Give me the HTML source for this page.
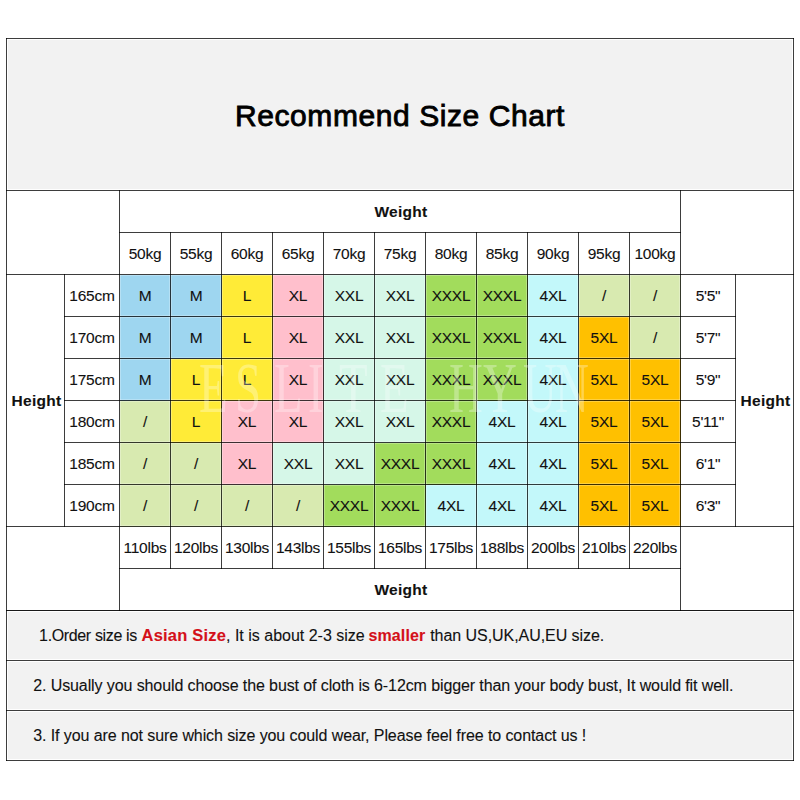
<!DOCTYPE html>
<html><head><meta charset="utf-8"><style>
html,body{margin:0;padding:0;background:#fff;}
body{width:800px;height:800px;position:relative;overflow:hidden;font-family:"Liberation Sans",Arial,sans-serif;color:#111;isolation:isolate;}
.a{position:absolute;}
.h{background:rgba(255,255,255,0.25);}
.c{position:absolute;display:flex;align-items:center;justify-content:center;white-space:nowrap;font-size:15.5px;letter-spacing:-0.25px;-webkit-text-stroke:0.1px #111;}
.title{font-size:30px;font-weight:400;letter-spacing:0.58px;-webkit-text-stroke:0.85px #000;color:#000;padding-top:3px;box-sizing:border-box;}
.b{font-weight:700;letter-spacing:0.3px;}
.note{position:absolute;white-space:nowrap;font-size:16px;color:#111;-webkit-text-stroke:0.1px currentColor;}
.r{color:#D41019;font-weight:700;}
.wm{position:absolute;font-family:"Liberation Serif",serif;color:rgba(255,255,255,0.3);font-size:71px;line-height:71px;transform:scaleX(0.66);transform-origin:0 0;white-space:nowrap;}
</style></head><body>
<div class="a " style="left:8px;top:40px;width:784px;height:149px;background:#F2F2F2"></div><div class="a " style="left:120px;top:275px;width:51px;height:42px;background:#9ED6F0"></div><div class="a " style="left:171px;top:275px;width:51px;height:42px;background:#9ED6F0"></div><div class="a " style="left:222px;top:275px;width:51px;height:42px;background:#FFEB37"></div><div class="a " style="left:273px;top:275px;width:51px;height:42px;background:#FFBFCC"></div><div class="a " style="left:324px;top:275px;width:51px;height:42px;background:#D6F7E8"></div><div class="a " style="left:375px;top:275px;width:51px;height:42px;background:#D6F7E8"></div><div class="a " style="left:426px;top:275px;width:51px;height:42px;background:#A2DC5C"></div><div class="a " style="left:477px;top:275px;width:51px;height:42px;background:#A2DC5C"></div><div class="a " style="left:528px;top:275px;width:51px;height:42px;background:#C3F8FA"></div><div class="a " style="left:579px;top:275px;width:51px;height:42px;background:#D8EAB0"></div><div class="a " style="left:630px;top:275px;width:51px;height:42px;background:#D8EAB0"></div><div class="a " style="left:120px;top:317px;width:51px;height:42px;background:#9ED6F0"></div><div class="a " style="left:171px;top:317px;width:51px;height:42px;background:#9ED6F0"></div><div class="a " style="left:222px;top:317px;width:51px;height:42px;background:#FFEB37"></div><div class="a " style="left:273px;top:317px;width:51px;height:42px;background:#FFBFCC"></div><div class="a " style="left:324px;top:317px;width:51px;height:42px;background:#D6F7E8"></div><div class="a " style="left:375px;top:317px;width:51px;height:42px;background:#D6F7E8"></div><div class="a " style="left:426px;top:317px;width:51px;height:42px;background:#A2DC5C"></div><div class="a " style="left:477px;top:317px;width:51px;height:42px;background:#A2DC5C"></div><div class="a " style="left:528px;top:317px;width:51px;height:42px;background:#C3F8FA"></div><div class="a " style="left:579px;top:317px;width:51px;height:42px;background:#FFC000"></div><div class="a " style="left:630px;top:317px;width:51px;height:42px;background:#D8EAB0"></div><div class="a " style="left:120px;top:359px;width:51px;height:42px;background:#9ED6F0"></div><div class="a " style="left:171px;top:359px;width:51px;height:42px;background:#FFEB37"></div><div class="a " style="left:222px;top:359px;width:51px;height:42px;background:#FFEB37"></div><div class="a " style="left:273px;top:359px;width:51px;height:42px;background:#FFBFCC"></div><div class="a " style="left:324px;top:359px;width:51px;height:42px;background:#D6F7E8"></div><div class="a " style="left:375px;top:359px;width:51px;height:42px;background:#D6F7E8"></div><div class="a " style="left:426px;top:359px;width:51px;height:42px;background:#A2DC5C"></div><div class="a " style="left:477px;top:359px;width:51px;height:42px;background:#A2DC5C"></div><div class="a " style="left:528px;top:359px;width:51px;height:42px;background:#C3F8FA"></div><div class="a " style="left:579px;top:359px;width:51px;height:42px;background:#FFC000"></div><div class="a " style="left:630px;top:359px;width:51px;height:42px;background:#FFC000"></div><div class="a " style="left:120px;top:401px;width:51px;height:42px;background:#D8EAB0"></div><div class="a " style="left:171px;top:401px;width:51px;height:42px;background:#FFEB37"></div><div class="a " style="left:222px;top:401px;width:51px;height:42px;background:#FFBFCC"></div><div class="a " style="left:273px;top:401px;width:51px;height:42px;background:#FFBFCC"></div><div class="a " style="left:324px;top:401px;width:51px;height:42px;background:#D6F7E8"></div><div class="a " style="left:375px;top:401px;width:51px;height:42px;background:#D6F7E8"></div><div class="a " style="left:426px;top:401px;width:51px;height:42px;background:#A2DC5C"></div><div class="a " style="left:477px;top:401px;width:51px;height:42px;background:#C3F8FA"></div><div class="a " style="left:528px;top:401px;width:51px;height:42px;background:#C3F8FA"></div><div class="a " style="left:579px;top:401px;width:51px;height:42px;background:#FFC000"></div><div class="a " style="left:630px;top:401px;width:51px;height:42px;background:#FFC000"></div><div class="a " style="left:120px;top:443px;width:51px;height:42px;background:#D8EAB0"></div><div class="a " style="left:171px;top:443px;width:51px;height:42px;background:#D8EAB0"></div><div class="a " style="left:222px;top:443px;width:51px;height:42px;background:#FFBFCC"></div><div class="a " style="left:273px;top:443px;width:51px;height:42px;background:#D6F7E8"></div><div class="a " style="left:324px;top:443px;width:51px;height:42px;background:#D6F7E8"></div><div class="a " style="left:375px;top:443px;width:51px;height:42px;background:#A2DC5C"></div><div class="a " style="left:426px;top:443px;width:51px;height:42px;background:#A2DC5C"></div><div class="a " style="left:477px;top:443px;width:51px;height:42px;background:#C3F8FA"></div><div class="a " style="left:528px;top:443px;width:51px;height:42px;background:#C3F8FA"></div><div class="a " style="left:579px;top:443px;width:51px;height:42px;background:#FFC000"></div><div class="a " style="left:630px;top:443px;width:51px;height:42px;background:#FFC000"></div><div class="a " style="left:120px;top:485px;width:51px;height:42px;background:#D8EAB0"></div><div class="a " style="left:171px;top:485px;width:51px;height:42px;background:#D8EAB0"></div><div class="a " style="left:222px;top:485px;width:51px;height:42px;background:#D8EAB0"></div><div class="a " style="left:273px;top:485px;width:51px;height:42px;background:#D8EAB0"></div><div class="a " style="left:324px;top:485px;width:51px;height:42px;background:#A2DC5C"></div><div class="a " style="left:375px;top:485px;width:51px;height:42px;background:#A2DC5C"></div><div class="a " style="left:426px;top:485px;width:51px;height:42px;background:#C3F8FA"></div><div class="a " style="left:477px;top:485px;width:51px;height:42px;background:#C3F8FA"></div><div class="a " style="left:528px;top:485px;width:51px;height:42px;background:#C3F8FA"></div><div class="a " style="left:579px;top:485px;width:51px;height:42px;background:#FFC000"></div><div class="a " style="left:630px;top:485px;width:51px;height:42px;background:#FFC000"></div><div class="a " style="left:8px;top:612px;width:784px;height:47px;background:#F2F2F2"></div><div class="a " style="left:8px;top:662px;width:784px;height:47px;background:#F2F2F2"></div><div class="a " style="left:8px;top:712px;width:784px;height:47px;background:#F2F2F2"></div>
<div class="a h" style="left:6px;top:37px;width:788px;height:1px;"></div><div class="a h" style="left:6px;top:39px;width:788px;height:1px;"></div><div class="a h" style="left:6px;top:759px;width:788px;height:1px;"></div><div class="a h" style="left:6px;top:761px;width:788px;height:1px;"></div><div class="a h" style="left:5px;top:38px;width:1px;height:723px;"></div><div class="a h" style="left:7px;top:38px;width:1px;height:723px;"></div><div class="a h" style="left:792px;top:38px;width:1px;height:723px;"></div><div class="a h" style="left:794px;top:38px;width:1px;height:723px;"></div><div class="a h" style="left:6px;top:189px;width:788px;height:1px;"></div><div class="a h" style="left:6px;top:191px;width:788px;height:1px;"></div><div class="a h" style="left:119px;top:231px;width:562px;height:1px;"></div><div class="a h" style="left:119px;top:233px;width:562px;height:1px;"></div><div class="a h" style="left:6px;top:273px;width:788px;height:1px;"></div><div class="a h" style="left:6px;top:275px;width:788px;height:1px;"></div><div class="a h" style="left:64px;top:315px;width:672px;height:1px;"></div><div class="a h" style="left:64px;top:317px;width:672px;height:1px;"></div><div class="a h" style="left:64px;top:357px;width:672px;height:1px;"></div><div class="a h" style="left:64px;top:359px;width:672px;height:1px;"></div><div class="a h" style="left:64px;top:399px;width:672px;height:1px;"></div><div class="a h" style="left:64px;top:401px;width:672px;height:1px;"></div><div class="a h" style="left:64px;top:441px;width:672px;height:1px;"></div><div class="a h" style="left:64px;top:443px;width:672px;height:1px;"></div><div class="a h" style="left:64px;top:483px;width:672px;height:1px;"></div><div class="a h" style="left:64px;top:485px;width:672px;height:1px;"></div><div class="a h" style="left:6px;top:525px;width:788px;height:1px;"></div><div class="a h" style="left:6px;top:527px;width:788px;height:1px;"></div><div class="a h" style="left:119px;top:567px;width:562px;height:1px;"></div><div class="a h" style="left:119px;top:569px;width:562px;height:1px;"></div><div class="a h" style="left:6px;top:609px;width:788px;height:1px;"></div><div class="a h" style="left:6px;top:611px;width:788px;height:1px;"></div><div class="a h" style="left:6px;top:659px;width:788px;height:1px;"></div><div class="a h" style="left:6px;top:661px;width:788px;height:1px;"></div><div class="a h" style="left:6px;top:709px;width:788px;height:1px;"></div><div class="a h" style="left:6px;top:711px;width:788px;height:1px;"></div><div class="a h" style="left:118px;top:190px;width:1px;height:421px;"></div><div class="a h" style="left:120px;top:190px;width:1px;height:421px;"></div><div class="a h" style="left:679px;top:190px;width:1px;height:421px;"></div><div class="a h" style="left:681px;top:190px;width:1px;height:421px;"></div><div class="a h" style="left:63px;top:274px;width:1px;height:253px;"></div><div class="a h" style="left:65px;top:274px;width:1px;height:253px;"></div><div class="a h" style="left:734px;top:274px;width:1px;height:253px;"></div><div class="a h" style="left:736px;top:274px;width:1px;height:253px;"></div><div class="a h" style="left:169px;top:232px;width:1px;height:337px;"></div><div class="a h" style="left:171px;top:232px;width:1px;height:337px;"></div><div class="a h" style="left:220px;top:232px;width:1px;height:337px;"></div><div class="a h" style="left:222px;top:232px;width:1px;height:337px;"></div><div class="a h" style="left:271px;top:232px;width:1px;height:337px;"></div><div class="a h" style="left:273px;top:232px;width:1px;height:337px;"></div><div class="a h" style="left:322px;top:232px;width:1px;height:337px;"></div><div class="a h" style="left:324px;top:232px;width:1px;height:337px;"></div><div class="a h" style="left:373px;top:232px;width:1px;height:337px;"></div><div class="a h" style="left:375px;top:232px;width:1px;height:337px;"></div><div class="a h" style="left:424px;top:232px;width:1px;height:337px;"></div><div class="a h" style="left:426px;top:232px;width:1px;height:337px;"></div><div class="a h" style="left:475px;top:232px;width:1px;height:337px;"></div><div class="a h" style="left:477px;top:232px;width:1px;height:337px;"></div><div class="a h" style="left:526px;top:232px;width:1px;height:337px;"></div><div class="a h" style="left:528px;top:232px;width:1px;height:337px;"></div><div class="a h" style="left:577px;top:232px;width:1px;height:337px;"></div><div class="a h" style="left:579px;top:232px;width:1px;height:337px;"></div><div class="a h" style="left:628px;top:232px;width:1px;height:337px;"></div><div class="a h" style="left:630px;top:232px;width:1px;height:337px;"></div>
<div class="a " style="left:6px;top:38px;width:788px;height:1px;background:rgba(0,0,0,0.76)"></div><div class="a " style="left:6px;top:760px;width:788px;height:1px;background:rgba(0,0,0,0.76)"></div><div class="a " style="left:6px;top:38px;width:1px;height:723px;background:rgba(0,0,0,0.76)"></div><div class="a " style="left:793px;top:38px;width:1px;height:723px;background:rgba(0,0,0,0.76)"></div><div class="a " style="left:6px;top:190px;width:788px;height:1px;background:rgba(0,0,0,0.76)"></div><div class="a " style="left:119px;top:232px;width:562px;height:1px;background:rgba(0,0,0,0.76)"></div><div class="a " style="left:6px;top:274px;width:788px;height:1px;background:rgba(0,0,0,0.76)"></div><div class="a " style="left:64px;top:316px;width:672px;height:1px;background:rgba(0,0,0,0.76)"></div><div class="a " style="left:64px;top:358px;width:672px;height:1px;background:rgba(0,0,0,0.76)"></div><div class="a " style="left:64px;top:400px;width:672px;height:1px;background:rgba(0,0,0,0.76)"></div><div class="a " style="left:64px;top:442px;width:672px;height:1px;background:rgba(0,0,0,0.76)"></div><div class="a " style="left:64px;top:484px;width:672px;height:1px;background:rgba(0,0,0,0.76)"></div><div class="a " style="left:6px;top:526px;width:788px;height:1px;background:rgba(0,0,0,0.76)"></div><div class="a " style="left:119px;top:568px;width:562px;height:1px;background:rgba(0,0,0,0.76)"></div><div class="a " style="left:6px;top:610px;width:788px;height:1px;background:rgba(0,0,0,0.9)"></div><div class="a " style="left:6px;top:660px;width:788px;height:1px;background:rgba(0,0,0,0.76)"></div><div class="a " style="left:6px;top:710px;width:788px;height:1px;background:rgba(0,0,0,0.76)"></div><div class="a " style="left:119px;top:190px;width:1px;height:421px;background:rgba(0,0,0,0.76)"></div><div class="a " style="left:680px;top:190px;width:1px;height:421px;background:rgba(0,0,0,0.76)"></div><div class="a " style="left:64px;top:274px;width:1px;height:253px;background:rgba(0,0,0,0.76)"></div><div class="a " style="left:735px;top:274px;width:1px;height:253px;background:rgba(0,0,0,0.76)"></div><div class="a " style="left:170px;top:232px;width:1px;height:337px;background:rgba(0,0,0,0.76)"></div><div class="a " style="left:221px;top:232px;width:1px;height:337px;background:rgba(0,0,0,0.76)"></div><div class="a " style="left:272px;top:232px;width:1px;height:337px;background:rgba(0,0,0,0.76)"></div><div class="a " style="left:323px;top:232px;width:1px;height:337px;background:rgba(0,0,0,0.76)"></div><div class="a " style="left:374px;top:232px;width:1px;height:337px;background:rgba(0,0,0,0.76)"></div><div class="a " style="left:425px;top:232px;width:1px;height:337px;background:rgba(0,0,0,0.76)"></div><div class="a " style="left:476px;top:232px;width:1px;height:337px;background:rgba(0,0,0,0.76)"></div><div class="a " style="left:527px;top:232px;width:1px;height:337px;background:rgba(0,0,0,0.76)"></div><div class="a " style="left:578px;top:232px;width:1px;height:337px;background:rgba(0,0,0,0.76)"></div><div class="a " style="left:629px;top:232px;width:1px;height:337px;background:rgba(0,0,0,0.76)"></div>
<div class="c title" style="left:8px;top:40px;width:784px;height:149px;">Recommend Size Chart</div><div class="c b" style="left:120px;top:191px;width:560px;height:41px;padding-left:2px;box-sizing:border-box;">Weight</div><div class="c t" style="left:120px;top:233px;width:50px;height:41px;">50kg</div><div class="c t" style="left:171px;top:233px;width:50px;height:41px;">55kg</div><div class="c t" style="left:222px;top:233px;width:50px;height:41px;">60kg</div><div class="c t" style="left:273px;top:233px;width:50px;height:41px;">65kg</div><div class="c t" style="left:324px;top:233px;width:50px;height:41px;">70kg</div><div class="c t" style="left:375px;top:233px;width:50px;height:41px;">75kg</div><div class="c t" style="left:426px;top:233px;width:50px;height:41px;">80kg</div><div class="c t" style="left:477px;top:233px;width:50px;height:41px;">85kg</div><div class="c t" style="left:528px;top:233px;width:50px;height:41px;">90kg</div><div class="c t" style="left:579px;top:233px;width:50px;height:41px;">95kg</div><div class="c t" style="left:630px;top:233px;width:50px;height:41px;">100kg</div><div class="c b" style="left:7px;top:275px;width:57px;height:251px;padding-left:2px;box-sizing:border-box;">Height</div><div class="c b" style="left:736px;top:275px;width:57px;height:251px;padding-left:2px;box-sizing:border-box;">Height</div><div class="c t" style="left:65px;top:275px;width:54px;height:41px;">165cm</div><div class="c t" style="left:120px;top:275px;width:50px;height:41px;">M</div><div class="c t" style="left:171px;top:275px;width:50px;height:41px;">M</div><div class="c t" style="left:222px;top:275px;width:50px;height:41px;">L</div><div class="c t" style="left:273px;top:275px;width:50px;height:41px;">XL</div><div class="c t" style="left:324px;top:275px;width:50px;height:41px;">XXL</div><div class="c t" style="left:375px;top:275px;width:50px;height:41px;">XXL</div><div class="c t" style="left:426px;top:275px;width:50px;height:41px;">XXXL</div><div class="c t" style="left:477px;top:275px;width:50px;height:41px;">XXXL</div><div class="c t" style="left:528px;top:275px;width:50px;height:41px;">4XL</div><div class="c t" style="left:579px;top:275px;width:50px;height:41px;">/</div><div class="c t" style="left:630px;top:275px;width:50px;height:41px;">/</div><div class="c t" style="left:681px;top:275px;width:54px;height:41px;">5'5"</div><div class="c t" style="left:65px;top:317px;width:54px;height:41px;">170cm</div><div class="c t" style="left:120px;top:317px;width:50px;height:41px;">M</div><div class="c t" style="left:171px;top:317px;width:50px;height:41px;">M</div><div class="c t" style="left:222px;top:317px;width:50px;height:41px;">L</div><div class="c t" style="left:273px;top:317px;width:50px;height:41px;">XL</div><div class="c t" style="left:324px;top:317px;width:50px;height:41px;">XXL</div><div class="c t" style="left:375px;top:317px;width:50px;height:41px;">XXL</div><div class="c t" style="left:426px;top:317px;width:50px;height:41px;">XXXL</div><div class="c t" style="left:477px;top:317px;width:50px;height:41px;">XXXL</div><div class="c t" style="left:528px;top:317px;width:50px;height:41px;">4XL</div><div class="c t" style="left:579px;top:317px;width:50px;height:41px;">5XL</div><div class="c t" style="left:630px;top:317px;width:50px;height:41px;">/</div><div class="c t" style="left:681px;top:317px;width:54px;height:41px;">5'7"</div><div class="c t" style="left:65px;top:359px;width:54px;height:41px;">175cm</div><div class="c t" style="left:120px;top:359px;width:50px;height:41px;">M</div><div class="c t" style="left:171px;top:359px;width:50px;height:41px;">L</div><div class="c t" style="left:222px;top:359px;width:50px;height:41px;">L</div><div class="c t" style="left:273px;top:359px;width:50px;height:41px;">XL</div><div class="c t" style="left:324px;top:359px;width:50px;height:41px;">XXL</div><div class="c t" style="left:375px;top:359px;width:50px;height:41px;">XXL</div><div class="c t" style="left:426px;top:359px;width:50px;height:41px;">XXXL</div><div class="c t" style="left:477px;top:359px;width:50px;height:41px;">XXXL</div><div class="c t" style="left:528px;top:359px;width:50px;height:41px;">4XL</div><div class="c t" style="left:579px;top:359px;width:50px;height:41px;">5XL</div><div class="c t" style="left:630px;top:359px;width:50px;height:41px;">5XL</div><div class="c t" style="left:681px;top:359px;width:54px;height:41px;">5'9"</div><div class="c t" style="left:65px;top:401px;width:54px;height:41px;">180cm</div><div class="c t" style="left:120px;top:401px;width:50px;height:41px;">/</div><div class="c t" style="left:171px;top:401px;width:50px;height:41px;">L</div><div class="c t" style="left:222px;top:401px;width:50px;height:41px;">XL</div><div class="c t" style="left:273px;top:401px;width:50px;height:41px;">XL</div><div class="c t" style="left:324px;top:401px;width:50px;height:41px;">XXL</div><div class="c t" style="left:375px;top:401px;width:50px;height:41px;">XXL</div><div class="c t" style="left:426px;top:401px;width:50px;height:41px;">XXXL</div><div class="c t" style="left:477px;top:401px;width:50px;height:41px;">4XL</div><div class="c t" style="left:528px;top:401px;width:50px;height:41px;">4XL</div><div class="c t" style="left:579px;top:401px;width:50px;height:41px;">5XL</div><div class="c t" style="left:630px;top:401px;width:50px;height:41px;">5XL</div><div class="c t" style="left:681px;top:401px;width:54px;height:41px;">5'11"</div><div class="c t" style="left:65px;top:443px;width:54px;height:41px;">185cm</div><div class="c t" style="left:120px;top:443px;width:50px;height:41px;">/</div><div class="c t" style="left:171px;top:443px;width:50px;height:41px;">/</div><div class="c t" style="left:222px;top:443px;width:50px;height:41px;">XL</div><div class="c t" style="left:273px;top:443px;width:50px;height:41px;">XXL</div><div class="c t" style="left:324px;top:443px;width:50px;height:41px;">XXL</div><div class="c t" style="left:375px;top:443px;width:50px;height:41px;">XXXL</div><div class="c t" style="left:426px;top:443px;width:50px;height:41px;">XXXL</div><div class="c t" style="left:477px;top:443px;width:50px;height:41px;">4XL</div><div class="c t" style="left:528px;top:443px;width:50px;height:41px;">4XL</div><div class="c t" style="left:579px;top:443px;width:50px;height:41px;">5XL</div><div class="c t" style="left:630px;top:443px;width:50px;height:41px;">5XL</div><div class="c t" style="left:681px;top:443px;width:54px;height:41px;">6'1"</div><div class="c t" style="left:65px;top:485px;width:54px;height:41px;">190cm</div><div class="c t" style="left:120px;top:485px;width:50px;height:41px;">/</div><div class="c t" style="left:171px;top:485px;width:50px;height:41px;">/</div><div class="c t" style="left:222px;top:485px;width:50px;height:41px;">/</div><div class="c t" style="left:273px;top:485px;width:50px;height:41px;">/</div><div class="c t" style="left:324px;top:485px;width:50px;height:41px;">XXXL</div><div class="c t" style="left:375px;top:485px;width:50px;height:41px;">XXXL</div><div class="c t" style="left:426px;top:485px;width:50px;height:41px;">4XL</div><div class="c t" style="left:477px;top:485px;width:50px;height:41px;">4XL</div><div class="c t" style="left:528px;top:485px;width:50px;height:41px;">4XL</div><div class="c t" style="left:579px;top:485px;width:50px;height:41px;">5XL</div><div class="c t" style="left:630px;top:485px;width:50px;height:41px;">5XL</div><div class="c t" style="left:681px;top:485px;width:54px;height:41px;">6'3"</div><div class="c t" style="left:120px;top:527px;width:50px;height:41px;">110lbs</div><div class="c t" style="left:171px;top:527px;width:50px;height:41px;">120lbs</div><div class="c t" style="left:222px;top:527px;width:50px;height:41px;">130lbs</div><div class="c t" style="left:273px;top:527px;width:50px;height:41px;">143lbs</div><div class="c t" style="left:324px;top:527px;width:50px;height:41px;">155lbs</div><div class="c t" style="left:375px;top:527px;width:50px;height:41px;">165lbs</div><div class="c t" style="left:426px;top:527px;width:50px;height:41px;">175lbs</div><div class="c t" style="left:477px;top:527px;width:50px;height:41px;">188lbs</div><div class="c t" style="left:528px;top:527px;width:50px;height:41px;">200lbs</div><div class="c t" style="left:579px;top:527px;width:50px;height:41px;">210lbs</div><div class="c t" style="left:630px;top:527px;width:50px;height:41px;">220lbs</div><div class="c b" style="left:120px;top:569px;width:560px;height:41px;padding-left:2px;box-sizing:border-box;">Weight</div><div class="note " style="left:39.1px;top:611px;height:49px;line-height:49px;letter-spacing:-0.36px;">1.Order size is</div><div class="note r" style="left:141.6px;top:611px;height:49px;line-height:49px;letter-spacing:0.2px;font-size:16.5px;">Asian Size</div><div class="note " style="left:226.0px;top:611px;height:49px;line-height:49px;letter-spacing:0.0px;">, It is about 2-3 size</div><div class="note r" style="left:368.4px;top:611px;height:49px;line-height:49px;letter-spacing:0.15px;">smaller</div><div class="note " style="left:430.2px;top:611px;height:49px;line-height:49px;letter-spacing:-0.05px;">than US,UK,AU,EU size.</div><div class="note" style="left:33.25px;top:661px;height:49px;line-height:49px;letter-spacing:-0.103px">2. Usually you should choose the bust of cloth is 6-12cm bigger than your body bust, It would fit well.</div><div class="note" style="left:33.25px;top:711px;height:49px;line-height:49px;letter-spacing:-0.09px">3. If you are not sure which size you could wear, Please feel free to contact us !</div>
<div class="wm" style="left:199px;top:353px">E</div><div class="wm" style="left:235px;top:353px">S</div><div class="wm" style="left:274px;top:353px">L</div><div class="wm" style="left:308px;top:353px">I</div><div class="wm" style="left:339px;top:353px">T</div><div class="wm" style="left:380px;top:353px">E</div><div class="wm" style="left:449px;top:353px">H</div><div class="wm" style="left:483px;top:353px">Y</div><div class="wm" style="left:523px;top:353px">U</div><div class="wm" style="left:555px;top:353px">N</div>
</body></html>
